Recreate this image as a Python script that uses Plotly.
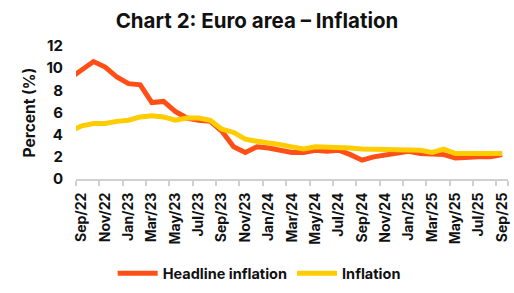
import plotly.graph_objects as go

months = ["Aug/22", "Sep/22", "Oct/22", "Nov/22", "Dec/22",
          "Jan/23", "Feb/23", "Mar/23", "Apr/23", "May/23", "Jun/23", "Jul/23", "Aug/23", "Sep/23", "Oct/23", "Nov/23", "Dec/23",
          "Jan/24", "Feb/24", "Mar/24", "Apr/24", "May/24", "Jun/24", "Jul/24", "Aug/24", "Sep/24", "Oct/24", "Nov/24", "Dec/24",
          "Jan/25", "Feb/25", "Mar/25", "Apr/25", "May/25", "Jun/25", "Jul/25", "Aug/25", "Sep/25"]

headline = [9.1, 9.9, 10.6, 10.1, 9.2,
            8.6, 8.5, 6.9, 7.0, 6.1, 5.5, 5.3, 5.2, 4.3, 2.9, 2.4, 2.9,
            2.8, 2.6, 2.4, 2.4, 2.6, 2.5, 2.6, 2.2, 1.7, 2.0, 2.2, 2.4,
            2.5, 2.3, 2.2, 2.2, 1.9, 2.0, 2.0, 2.0, 2.2]

core = [4.3, 4.8, 5.0, 5.0, 5.2,
        5.3, 5.6, 5.7, 5.6, 5.3, 5.5, 5.5, 5.3, 4.5, 4.2, 3.6, 3.4,
        3.3, 3.1, 2.9, 2.7, 2.9, 2.9, 2.9, 2.8, 2.7, 2.7, 2.7, 2.7,
        2.7, 2.6, 2.4, 2.7, 2.3, 2.3, 2.3, 2.3, 2.3]

tick_labels = months[1::2]
y_ticks = [0, 2, 4, 6, 8, 10, 12]

FONT = "Inter"

fig = go.Figure()
fig.add_trace(go.Scatter(x=months, y=headline, mode="lines", name="<b>Headline inflation</b>",
                         line=dict(color="#FF4F17", width=5)))
fig.add_trace(go.Scatter(x=months, y=core, mode="lines", name="<b>Inflation</b>",
                         line=dict(color="#FFCC00", width=5)))

fig.update_layout(
    width=514, height=293,
    margin=dict(l=76, r=4, t=46, b=111),
    paper_bgcolor="white", plot_bgcolor="white",
    font=dict(family=FONT, color="#111111"),
    title=dict(text="<b>Chart 2: Euro area – Inflation</b>", x=0.5, xref="container",
               xanchor="center", y=0.93, yanchor="middle",
               font=dict(family=FONT, size=20.5, color="#111111")),
    legend=dict(orientation="h", x=0.424, xanchor="center", y=-0.71, yanchor="middle",
                font=dict(family=FONT, size=14.5, color="#111111"),
                itemwidth=40, tracegroupgap=0, itemclick=False),
    showlegend=True,
)

fig.update_xaxes(
    type="category", categoryorder="array", categoryarray=months,
    range=[0.5, len(months) - 0.5],
    tickmode="array", tickvals=tick_labels, ticktext=["<b>%s</b>" % t for t in tick_labels],
    tickangle=-90, tickson="boundaries",
    ticks="outside", ticklen=5, tickcolor="#d0d0d0", tickwidth=1.5,
    showline=True, linecolor="#d0d0d0", linewidth=2,
    showgrid=False, zeroline=False,
    ticklabelstandoff=6,
    tickfont=dict(family=FONT, size=14, color="#111111"),
)

fig.update_yaxes(
    range=[0, 12], tickmode="array", tickvals=y_ticks,
    ticktext=["<b>%d</b>" % v for v in y_ticks],
    showgrid=False, zeroline=False, showline=False, ticks="",
    ticklabelstandoff=12,
    tickfont=dict(family=FONT, size=15, color="#111111"),
    title=dict(text="<b>Percent (%)</b>", font=dict(family=FONT, size=15.5, color="#111111"), standoff=6),
)

fig.write_html("out.html")
